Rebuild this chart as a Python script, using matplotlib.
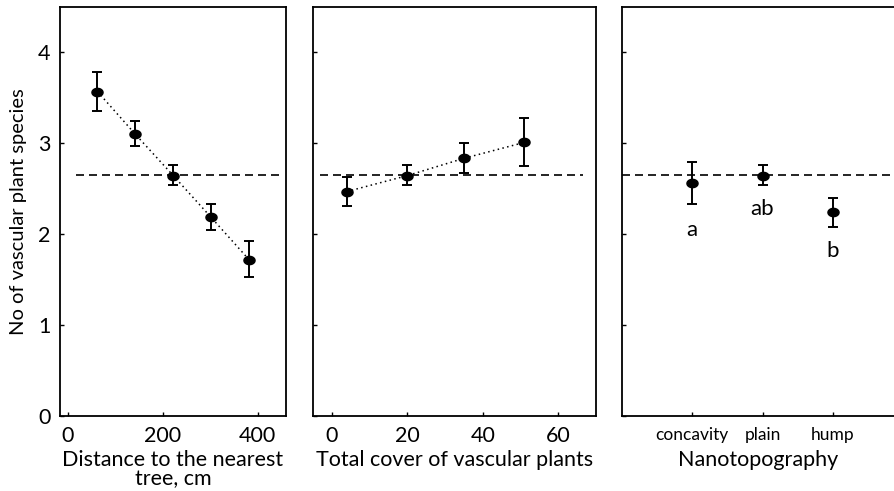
import numpy as np
import matplotlib
matplotlib.use("Agg")
import matplotlib.pyplot as plt
from matplotlib.path import Path

plt.rcParams['font.family'] = ['Lato', 'DejaVu Sans']

# panel 1: distance to the nearest tree
dist_x = [62, 142, 222, 302, 382]
dist_y = [3.57, 3.10, 2.645, 2.185, 1.72]
dist_lo = [3.36, 2.97, 2.54, 2.05, 1.53]
dist_hi = [3.78, 3.25, 2.76, 2.33, 1.93]

# panel 2: total cover of vascular plants
cover_x = [4, 20, 35, 51]
cover_y = [2.47, 2.645, 2.835, 3.01]
cover_lo = [2.31, 2.54, 2.67, 2.75]
cover_hi = [2.63, 2.76, 3.00, 3.28]

# panel 3: nanotopography
topo_cats = ["concavity", "plain", "hump"]
topo_y = [2.56, 2.645, 2.24]
topo_lo = [2.33, 2.54, 2.08]
topo_hi = [2.80, 2.76, 2.40]
topo_letters = ["a", "ab", "b"]
letter_y = [2.05, 2.28, 1.81]

overall_mean = 2.65

# slightly flattened dot, like in the original
t = np.linspace(0, 2 * np.pi, 41)
ellipse = Path(np.column_stack([np.cos(t), 0.75 * np.sin(t)]), closed=True)

fig = plt.figure(figsize=(8.95, 4.91), dpi=100)
ax1 = fig.add_axes([60 / 895, 1 - 416 / 491, 226 / 895, 409 / 491])
ax2 = fig.add_axes([313 / 895, 1 - 416 / 491, 283 / 895, 409 / 491])
ax3 = fig.add_axes([622 / 895, 1 - 416 / 491, 281 / 895, 409 / 491])


def draw(ax, x, y, lo, hi, connect=True):
    y = np.array(y)
    err = [y - np.array(lo), np.array(hi) - y]
    if connect:
        ax.plot(x, y, color="black", linestyle=(0, (1, 2.2)), lw=1.1)
    ax.errorbar(x, y, yerr=err, fmt="none", ecolor="black",
                elinewidth=1.4, capsize=3.8, capthick=1.4)
    ax.plot(x, y, linestyle="none", marker=ellipse, ms=8, color="black")


draw(ax1, dist_x, dist_y, dist_lo, dist_hi)
draw(ax2, cover_x, cover_y, cover_lo, cover_hi)
cat_pos = np.arange(1, len(topo_cats) + 1)
draw(ax3, cat_pos, topo_y, topo_lo, topo_hi, connect=False)
for xp, lab, ly in zip(cat_pos, topo_letters, letter_y):
    ax3.text(xp, ly, lab, ha="center", va="center", fontsize=16)

dash = (0, (4.8, 3))
ax1.axhline(overall_mean, xmin=0.07, xmax=0.98, color="black", ls=dash, lw=1.2)
ax2.axhline(overall_mean, xmin=0.026, xmax=0.955, color="black", ls=dash, lw=1.2)
ax3.axhline(overall_mean, xmin=0.0, xmax=1.0, color="black", ls=dash, lw=1.2)

ax1.set_xlim(-17, 460)
ax1.set_xticks([0, 200, 400])
ax2.set_xlim(-5, 70)
ax2.set_xticks([0, 20, 40, 60])
ax3.set_xlim(0, 4)
ax3.set_xticks(cat_pos)
ax3.set_xticklabels(topo_cats)

for ax in (ax1, ax2, ax3):
    ax.set_ylim(0, 4.5)
    ax.set_yticks([0, 1, 2, 3, 4])
    ax.tick_params(direction="in", length=3, width=1, labelsize=15.5, pad=7)
    for s in ax.spines.values():
        s.set_linewidth(1.3)
ax3.tick_params(axis="x", labelsize=12.5, pad=8)
ax2.set_yticklabels([])
ax3.set_yticklabels([])

ax1.set_ylabel("No of vascular plant species", fontsize=14.5, labelpad=8)
ax1.set_xlabel("Distance to the nearest\ntree, cm", fontsize=15.5, linespacing=0.95)
ax2.set_xlabel("Total cover of vascular plants", fontsize=15.5)
ax3.set_xlabel("Nanotopography", fontsize=15.5)
for ax, xc in ((ax1, 0.5), (ax2, 0.5), (ax3, 0.485)):
    ax.xaxis.set_label_coords(xc, -0.083)

fig.savefig("out.png", dpi=100)
